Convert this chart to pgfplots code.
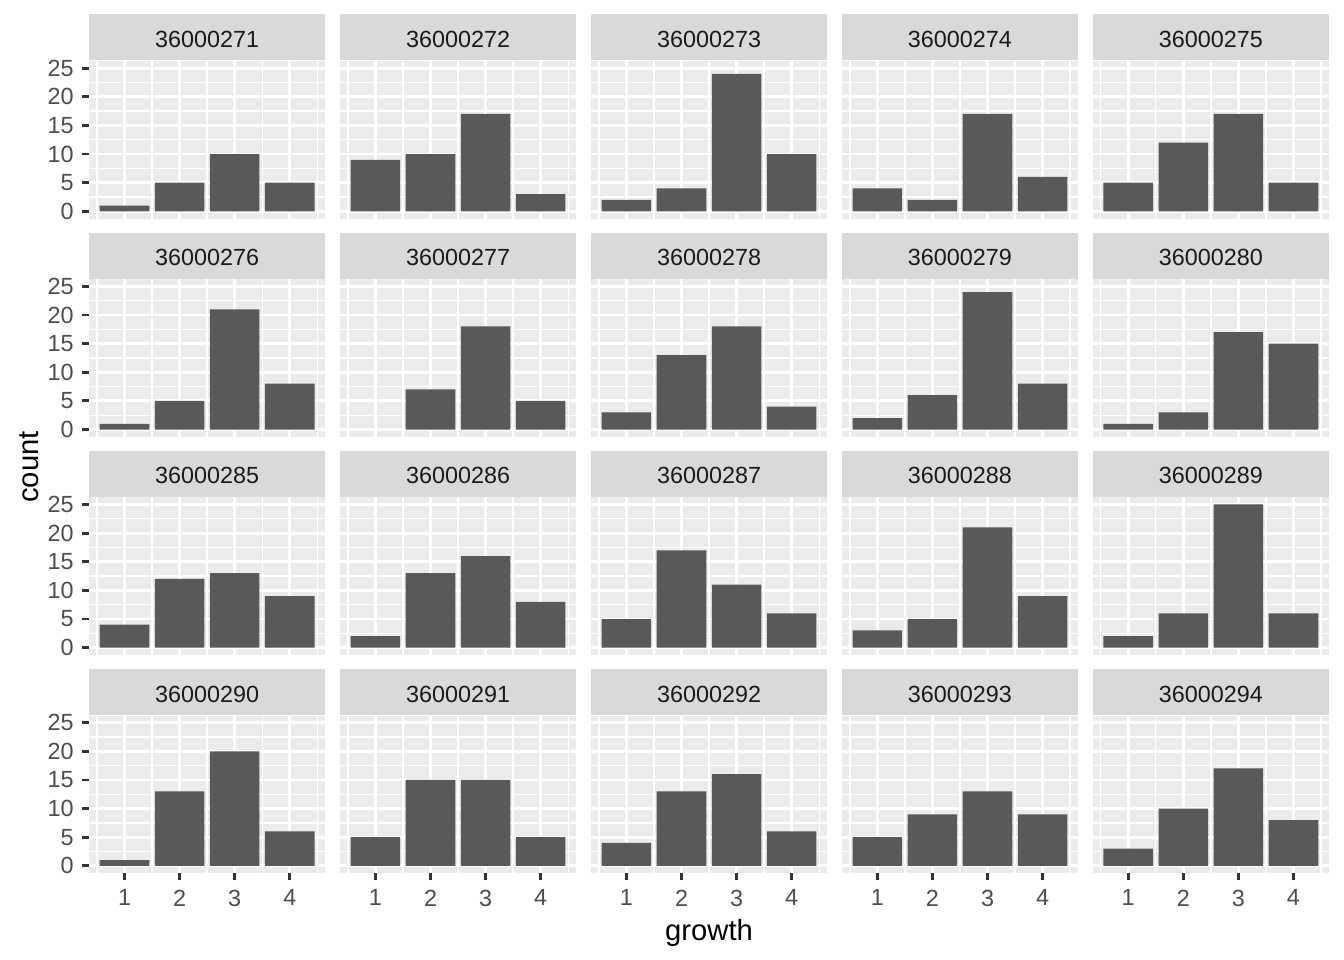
\documentclass[border=0pt]{standalone}
\usepackage{fontspec}
\setmainfont{Liberation Sans}
\usepackage{pgfplots}
\pgfplotsset{compat=1.18}

\definecolor{gray92}{HTML}{EBEBEB}
\definecolor{gray85}{HTML}{D9D9D9}
\definecolor{gray35}{HTML}{595959}
\definecolor{gray30}{HTML}{4D4D4D}
\definecolor{gray20}{HTML}{333333}
\definecolor{gray10}{HTML}{1A1A1A}

% one facet: 1 px of the reference = 0.375bp
\pgfplotsset{
  facet/.style={
    scale only axis, width=88.61bp, height=59.06bp,
    anchor=north west,
    xmin=0.355, xmax=4.645, ymin=-1.25, ymax=26.25,
    xtick={1,2,3,4}, ytick={0,5,10,15,20,25},
    minor xtick={0.5,1.5,2.5,3.5,4.5},
    minor ytick={2.5,7.5,12.5,17.5,22.5},
    xticklabels={}, yticklabels={},
    grid=both,
    major grid style={white, line width=1.07pt},
    minor grid style={white, line width=0.53pt},
    axis background/.style={fill=gray92},
    axis line style={draw=none},
    tick pos=left, tick align=outside,
    major tick length=2.75pt, minor tick length=0pt,
    tick style={draw=none},
    ticklabel style={font=\fontsize{8.8}{10}\selectfont, text=gray30},
    yticklabel style={xshift=0.5pt},
    every axis title shift=0pt,
    title style={at={(0.5,1)}, anchor=south, fill=gray85, inner sep=0pt,
      minimum width=88.61bp, minimum height=17.25bp, text=gray10,
      text height=7.6pt, text depth=0pt,
      font=\fontsize{8.8}{10}\selectfont},
    ybar, bar width=0.9,
  },
  leftcol/.style={yticklabels={0,5,10,15,20,25},
    ytick style={draw=gray20, line width=1.07pt}},
  bottomrow/.style={xticklabels={1,2,3,4},
    xtick style={draw=gray20, line width=1.07pt}},
  bars/.style={fill=gray35, draw=none},
}

\begin{document}
\begin{tikzpicture}
\path[use as bounding box] (0,0) rectangle (504bp,-360bp);

% row 1
\begin{axis}[facet, leftcol, at={(33.375bp,-22.875bp)}, title={36000271}]
\addplot[bars] coordinates {(1,1) (2,5) (3,10) (4,5)};
\end{axis}
\begin{axis}[facet, at={(127.46bp,-22.875bp)}, title={36000272}]
\addplot[bars] coordinates {(1,9) (2,10) (3,17) (4,3)};
\end{axis}
\begin{axis}[facet, at={(221.59bp,-22.875bp)}, title={36000273}]
\addplot[bars] coordinates {(1,2) (2,4) (3,24) (4,10)};
\end{axis}
\begin{axis}[facet, at={(315.68bp,-22.875bp)}, title={36000274}]
\addplot[bars] coordinates {(1,4) (2,2) (3,17) (4,6)};
\end{axis}
\begin{axis}[facet, at={(409.76bp,-22.875bp)}, title={36000275}]
\addplot[bars] coordinates {(1,5) (2,12) (3,17) (4,5)};
\end{axis}

% row 2
\begin{axis}[facet, leftcol, at={(33.375bp,-104.7bp)}, title={36000276}]
\addplot[bars] coordinates {(1,1) (2,5) (3,21) (4,8)};
\end{axis}
\begin{axis}[facet, at={(127.46bp,-104.7bp)}, title={36000277}]
\addplot[bars] coordinates {(2,7) (3,18) (4,5)};
\end{axis}
\begin{axis}[facet, at={(221.59bp,-104.7bp)}, title={36000278}]
\addplot[bars] coordinates {(1,3) (2,13) (3,18) (4,4)};
\end{axis}
\begin{axis}[facet, at={(315.68bp,-104.7bp)}, title={36000279}]
\addplot[bars] coordinates {(1,2) (2,6) (3,24) (4,8)};
\end{axis}
\begin{axis}[facet, at={(409.76bp,-104.7bp)}, title={36000280}]
\addplot[bars] coordinates {(1,1) (2,3) (3,17) (4,15)};
\end{axis}

% row 3
\begin{axis}[facet, leftcol, at={(33.375bp,-186.49bp)}, title={36000285}]
\addplot[bars] coordinates {(1,4) (2,12) (3,13) (4,9)};
\end{axis}
\begin{axis}[facet, at={(127.46bp,-186.49bp)}, title={36000286}]
\addplot[bars] coordinates {(1,2) (2,13) (3,16) (4,8)};
\end{axis}
\begin{axis}[facet, at={(221.59bp,-186.49bp)}, title={36000287}]
\addplot[bars] coordinates {(1,5) (2,17) (3,11) (4,6)};
\end{axis}
\begin{axis}[facet, at={(315.68bp,-186.49bp)}, title={36000288}]
\addplot[bars] coordinates {(1,3) (2,5) (3,21) (4,9)};
\end{axis}
\begin{axis}[facet, at={(409.76bp,-186.49bp)}, title={36000289}]
\addplot[bars] coordinates {(1,2) (2,6) (3,25) (4,6)};
\end{axis}

% row 4
\begin{axis}[facet, leftcol, bottomrow, at={(33.375bp,-268.31bp)}, title={36000290}]
\addplot[bars] coordinates {(1,1) (2,13) (3,20) (4,6)};
\end{axis}
\begin{axis}[facet, bottomrow, at={(127.46bp,-268.31bp)}, title={36000291}]
\addplot[bars] coordinates {(1,5) (2,15) (3,15) (4,5)};
\end{axis}
\begin{axis}[facet, bottomrow, at={(221.59bp,-268.31bp)}, title={36000292}]
\addplot[bars] coordinates {(1,4) (2,13) (3,16) (4,6)};
\end{axis}
\begin{axis}[facet, bottomrow, at={(315.68bp,-268.31bp)}, title={36000293}]
\addplot[bars] coordinates {(1,5) (2,9) (3,13) (4,9)};
\end{axis}
\begin{axis}[facet, bottomrow, at={(409.76bp,-268.31bp)}, title={36000294}]
\addplot[bars] coordinates {(1,3) (2,10) (3,17) (4,8)};
\end{axis}

\node[rotate=90, anchor=base, font=\fontsize{11}{13}\selectfont] at (14.25bp,-175.1bp) {count};
\node[anchor=base, font=\fontsize{11}{13}\selectfont] at (265.9bp,-352.5bp) {growth};
\end{tikzpicture}
\end{document}
